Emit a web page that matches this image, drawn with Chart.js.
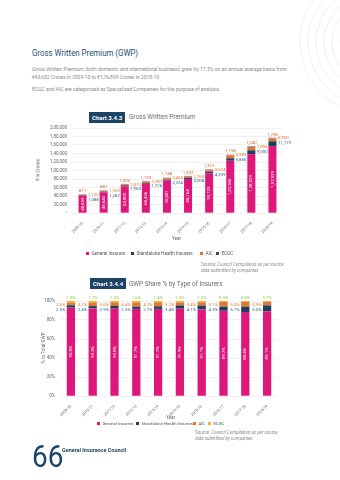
<!DOCTYPE html>
<html>
<head>
<meta charset="utf-8">
<script src="https://cdn.jsdelivr.net/npm/chart.js@4.4.1/dist/chart.umd.min.js"></script>
<style>
  html, body { margin: 0; padding: 0; background: #fff; }
  body { width: 340px; height: 480px; position: relative; overflow: hidden;
         font-family: Roboto, "Liberation Sans", sans-serif; }
  .t { position: absolute; white-space: nowrap; }
  .h1 { left: 32px; top: 47px; font-size: 9.6px; color: #1f4f73; transform: scaleX(0.82); transform-origin: left top; }
  .body { left: 32px; font-size: 5px; color: #8a8a8a; }
  .tag { position: absolute; background: #1d4466; color: #fff; font-weight: bold; font-size: 6px;
         height: 11px; line-height: 11px; padding: 0 3px; }
  .ctitle { font-size: 6.4px; color: #6d6d6d; }
  .axis { font-size: 4.6px; color: #666; }
  .leg { font-size: 4.7px; color: #555; line-height: 6px; }
  .leg.small { font-size: 4.3px; }
  .leg i { display: inline-block; width: 3.4px; height: 3.4px; margin-right: 2px; vertical-align: 0; }
  .src { font-size: 4.5px; color: #8a8a8a; line-height: 6px; }
  canvas { position: absolute; left: 0; }
</style>
</head>
<body>

<svg width="340" height="120" style="position:absolute;left:0;top:0">
  <g fill="none" stroke="#f0f0f0" stroke-width="1">
    <circle cx="372" cy="42" r="32"/>
    <circle cx="372" cy="42" r="40"/>
    <circle cx="372" cy="42" r="48"/>
    <circle cx="372" cy="42" r="56"/>
    <circle cx="372" cy="42" r="64"/>
    <circle cx="372" cy="42" r="72"/>
  </g>
</svg>

<div class="t h1">Gross Written Premium (GWP)</div>
<div class="t body" style="top:66px">Gross Written Premium (both domestic and international business) grew by 17.3% on an annual average basis from</div>
<div class="t body" style="top:74px">₹43,652 Crores in 2009-10 to ₹1,76,899 Crores in 2018-19.</div>
<div class="t body" style="top:86px">ECGC and AIC are categorized as Specialized Companies for the purpose of analysis.</div>

<div class="tag" style="left:89px;top:112px">Chart 3.4.3</div>
<div class="t ctitle" style="left:129px;top:113px">Gross Written Premium</div>

<canvas id="gwpChart" width="300" height="123" style="top:120px"></canvas>
<div class="t axis" style="left:38px;top:170px;transform:translate(-50%,-50%) rotate(-90deg)">₹ in Crores</div>
<div class="t axis" style="left:172px;top:236px">Year</div>
<div class="t leg" style="left:86px;top:251px"><i style="background:#e0177b"></i>General Insurers</div>
<div class="t leg" style="left:131px;top:251px"><i style="background:#1c3f60"></i>Standalone Health Insurers</div>
<div class="t leg" style="left:200px;top:251px"><i style="background:#e2762b"></i>AIC</div>
<div class="t leg" style="left:216px;top:251px"><i style="background:#5b3a75"></i>ECGC</div>
<div class="t src" style="left:201px;top:262px">Source: <i>Council Compilation as per source</i><br><i>data submitted by companies</i></div>

<div class="tag" style="left:90px;top:278px">Chart 3.4.4</div>
<div class="t ctitle" style="left:129px;top:280px">GWP Share % by Type of Insurers</div>

<canvas id="shareChart" width="300" height="128" style="top:292px"></canvas>
<div class="t axis" style="left:166px;top:415px">Year</div>
<div class="t axis" style="left:43px;top:348px;transform:translate(-50%,-50%) rotate(-90deg)">% to Total GWP</div>
<div class="t leg small" style="left:97px;top:421px"><i style="background:#e0177b"></i>General Insurers</div>
<div class="t leg small" style="left:136px;top:421px"><i style="background:#1c3f60"></i>Standalone Health Insurers</div>
<div class="t leg small" style="left:193px;top:421px"><i style="background:#e2762b"></i>AIC</div>
<div class="t leg small" style="left:208px;top:421px"><i style="background:#f4b324"></i>ECGC</div>
<div class="t src" style="left:195px;top:430px">Source: <i>Council Compilation as per source</i><br><i>data submitted by companies</i></div>

<div class="t" style="left:32px;top:441px;font-size:31px;color:#1d4466;line-height:31px;transform:scaleX(0.9);transform-origin:left top">66</div>
<div class="t" style="left:62px;top:446px;font-size:6.2px;font-weight:bold;color:#1d4466;transform:scaleX(0.88);transform-origin:left top">General Insurance Council</div>

<script>
// Financial years
const years = ['2009-10','2010-11','2011-12','2012-13','2013-14','2014-15','2015-16','2016-17','2017-18','2018-19'];

// Gross written premium, ₹ crores
const gwpGeneral = [40633, 48643, 63003, 68426, 76081, 80164, 93125, 122956, 138539, 157529];
const gwpStandaloneHealth = [1088, 1287, 1960, 1726, 2266, 3008, 4209, 5856, 9000, 11172];
const gwpAIC = [1120, 1950, 2472, 3287, 3465, 2760, 3524, 6989, 7896, 6900];
const gwpECGC = [811, 881, 1005, 1159, 1168, 1302, 1321, 1198, 1240, 1298];
const croreTicks = ['-', '20,000', '40,000', '60,000', '80,000', '1,00,000', '1,20,000', '1,40,000', '1,60,000', '1,80,000', '2,00,000'];

// Share of total GWP, %
const shareGeneral = [93.0, 92.2, 92.0, 91.7, 91.7, 91.9, 91.1, 89.7, 88.4, 89.1];
const shareStandaloneHealth = [2.5, 2.4, 2.9, 2.3, 2.7, 3.4, 4.1, 4.3, 5.7, 6.3];
const shareAIC = [2.6, 3.7, 3.6, 4.4, 4.2, 3.2, 3.4, 5.1, 5.0, 3.9];
const shareECGC = [1.9, 1.7, 1.5, 1.6, 1.4, 1.5, 1.3, 0.9, 0.8, 0.7];
const shareTicks = ['0%', '20%', '40%', '60%', '80%', '100%'];

const PINK = '#e0177b', NAVY = '#1c3f60', ORANGE = '#e2762b', PURPLE = '#5b3a75', GOLD = '#f4b324';
const FONT = 'Roboto, "Liberation Sans", sans-serif';

// Indian digit grouping: 157529 -> 1,57,529
function inr(n) {
  const s = String(Math.round(n));
  if (s.length <= 3) return s;
  const last3 = s.slice(-3);
  let rest = s.slice(0, -3);
  const parts = [];
  while (rest.length > 2) { parts.unshift(rest.slice(-2)); rest = rest.slice(0, -2); }
  if (rest) parts.unshift(rest);
  return parts.join(',') + ',' + last3;
}

function drawText(ctx, txt, x, y, color, align, baseline, rot) {
  ctx.save();
  ctx.translate(x, y);
  if (rot) ctx.rotate(rot);
  ctx.fillStyle = color;
  ctx.textAlign = align;
  ctx.textBaseline = baseline;
  ctx.fillText(txt, 0, 0);
  ctx.restore();
}

// Value tags for the stacked bars: inside (rotated), on top, and beside the stack
function makeTagPlugin(fmt, side, colors) {
  return {
    id: 'valueTags',
    afterDatasetsDraw(chart) {
      const ctx = chart.ctx;
      const d = i => chart.getDatasetMeta(i).data;
      const ds = chart.data.datasets;
      ctx.save();
      ctx.font = '4.4px ' + FONT;
      d(0).forEach((gi, j) => {
        const top = d(3)[j].y;
        const half = gi.width / 2;
        drawText(ctx, fmt(ds[0].data[j]), gi.x, (gi.y + gi.base) / 2, '#ffffff', 'center', 'middle', -Math.PI / 2);
        drawText(ctx, fmt(ds[3].data[j]), gi.x, top - 1.2, colors.top, 'center', 'bottom');
        if (side === 'right') {
          drawText(ctx, fmt(ds[2].data[j]), gi.x + half + 1.5, top + 0.5, colors.aic, 'left', 'middle');
          drawText(ctx, fmt(ds[1].data[j]), gi.x + half + 1.5, top + 5, colors.health, 'left', 'middle');
        } else {
          drawText(ctx, fmt(ds[2].data[j]), gi.x - half - 1.5, top + 4, colors.aic, 'right', 'middle');
          drawText(ctx, fmt(ds[1].data[j]), gi.x - half - 1.5, top + 8.5, colors.health, 'right', 'middle');
        }
      });
      ctx.restore();
    }
  };
}

function baseOptions(yMax, step, tickLabels, yWidth, pad, xHeight) {
  return {
    responsive: false,
    animation: false,
    devicePixelRatio: 1,
    layout: { padding: pad },
    plugins: { legend: { display: false }, tooltip: { enabled: false } },
    scales: {
      x: {
        stacked: true,
        grid: { display: false },
        border: { display: false },
        ticks: { color: '#666', font: { size: 3.9, family: FONT }, maxRotation: 45, minRotation: 45, padding: 0, autoSkip: false },
        afterFit(s) { s.height = xHeight; }
      },
      y: {
        stacked: true,
        min: 0, max: yMax,
        grid: { color: '#e6e6e6', lineWidth: 0.6, drawTicks: false },
        border: { display: false },
        ticks: {
          stepSize: step, color: '#666', padding: 5,
          font: { size: 4.5, family: FONT },
          callback: (v, i) => tickLabels[i]
        },
        afterFit(s) { s.width = yWidth; }
      }
    }
  };
}

function barSet(label, data, color) {
  return { label, data, backgroundColor: color, borderWidth: 0, barPercentage: 0.38, categoryPercentage: 1 };
}

new Chart(document.getElementById('gwpChart'), {
  type: 'bar',
  data: {
    labels: years,
    datasets: [
      barSet('General Insurers', gwpGeneral, PINK),
      barSet('Standalone Health Insurers', gwpStandaloneHealth, NAVY),
      barSet('AIC', gwpAIC, ORANGE),
      barSet('ECGC', gwpECGC, PURPLE)
    ]
  },
  options: baseOptions(200000, 20000, croreTicks, 72, { top: 8, right: 17, left: 0, bottom: 0 }, 30),
  plugins: [makeTagPlugin(inr, 'right', { top: '#c96a2a', aic: '#e2762b', health: '#2d5f88' })]
});

new Chart(document.getElementById('shareChart'), {
  type: 'bar',
  data: {
    labels: years,
    datasets: [
      barSet('General Insurers', shareGeneral, PINK),
      barSet('Standalone Health Insurers', shareStandaloneHealth, NAVY),
      barSet('AIC', shareAIC, ORANGE),
      barSet('ECGC', shareECGC, GOLD)
    ]
  },
  options: baseOptions(100, 20, shareTicks, 60, { top: 9, right: 22, left: 0, bottom: 0 }, 24),
  plugins: [makeTagPlugin(v => v.toFixed(1) + '%', 'left', { top: '#8cc63f', aic: '#e2762b', health: '#2d5f88' })]
});
</script>
</body>
</html>
